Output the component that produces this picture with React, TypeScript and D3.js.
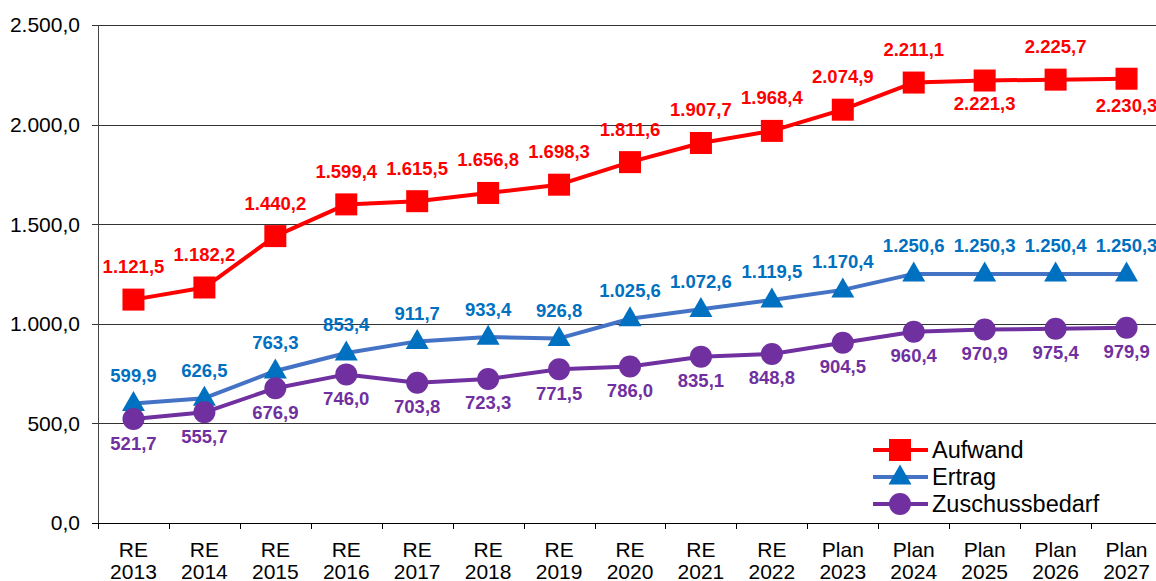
import React from "react";
import * as d3 from "d3";

const prefixes = ["RE", "RE", "RE", "RE", "RE", "RE", "RE", "RE", "RE", "RE", "Plan", "Plan", "Plan", "Plan", "Plan"];
const years = ["2013", "2014", "2015", "2016", "2017", "2018", "2019", "2020", "2021", "2022", "2023", "2024", "2025", "2026", "2027"];
const categories = years.map((y, i) => `${prefixes[i]} ${y}`);

const aufwand = [1121.5, 1182.2, 1440.2, 1599.4, 1615.5, 1656.8, 1698.3, 1811.6, 1907.7, 1968.4, 2074.9, 2211.1, 2221.3, 2225.7, 2230.3];
const ertrag = [599.9, 626.5, 763.3, 853.4, 911.7, 933.4, 926.8, 1025.6, 1072.6, 1119.5, 1170.4, 1250.6, 1250.3, 1250.4, 1250.3];
const zuschuss = [521.7, 555.7, 676.9, 746.0, 703.8, 723.3, 771.5, 786.0, 835.1, 848.8, 904.5, 960.4, 970.9, 975.4, 979.9];

const yTicks = [0, 500, 1000, 1500, 2000, 2500];

// label placement (offset of label centre from point, px)
const aufwandDy = [-33, -33, -33, -33, -33, -33, -33, -33, -33, -33, -33, -33, 23, -33, 27];
const ertragDy = -28;
const zuschussDy = 24;

const W = 1156;
const H = 581;
const margin = { left: 98, right: -6, top: 25, bottom: 58 };

const fmt = (v: number, digits = 1) => {
  const s = v.toFixed(digits);
  const [intPart, dec] = s.split(".");
  return intPart.replace(/\B(?=(\d{3})+(?!\d))/g, ".") + "," + dec;
};

const RED = "#FF0000";
const BLUE_LINE = "#4472C4";
const BLUE = "#0070C0";
const PURPLE = "#7030A0";
const FONT = "'Liberation Sans', Arial, sans-serif";

type Shape = "square" | "triangle" | "circle";

const Marker = ({ shape, x, y, color }: { shape: Shape; x: number; y: number; color: string }) => {
  if (shape === "square") return <rect x={x - 11} y={y - 11} width={22} height={22} fill={color} />;
  if (shape === "circle") return <circle cx={x} cy={y} r={11} fill={color} />;
  const s = 23;
  const h = s * 0.87;
  return (
    <path
      d={`M${x},${y - h * 0.62} L${x + s / 2},${y + h * 0.38} L${x - s / 2},${y + h * 0.38} Z`}
      fill={color}
    />
  );
};

const App = () => {
  const x = d3
    .scaleBand<string>()
    .domain(categories)
    .range([margin.left, W - margin.right])
    .padding(0);
  const cx = (c: string) => (x(c) ?? 0) + x.bandwidth() / 2;
  const y = d3.scaleLinear().domain([0, 2500]).range([H - margin.bottom, margin.top]);

  const line = d3
    .line<number>()
    .x((_, i) => cx(categories[i]))
    .y((d) => y(d));

  const series = [
    { name: "Aufwand", data: aufwand, line: RED, mark: RED, label: RED, shape: "square" as Shape },
    { name: "Ertrag", data: ertrag, line: BLUE_LINE, mark: BLUE, label: BLUE, shape: "triangle" as Shape },
    { name: "Zuschussbedarf", data: zuschuss, line: PURPLE, mark: PURPLE, label: PURPLE, shape: "circle" as Shape },
  ];

  const plotRight = W - margin.right;
  const bottom = H - margin.bottom;

  return (
    <svg
      width={W}
      height={H}
      style={{ position: "absolute", left: 0, top: 0, fontFamily: FONT }}
    >
      <rect width={W} height={H} fill="#fff" />
      {/* grid */}
      {yTicks.map((t) => (
        <g key={t}>
          <line
            x1={margin.left - 6}
            x2={plotRight}
            y1={Math.round(y(t)) + 0.5}
            y2={Math.round(y(t)) + 0.5}
            stroke={t === 0 ? "#000" : "#333"}
            strokeWidth={1}
          />
          <text
            x={80}
            y={y(t)}
            dy="0.35em"
            textAnchor="end"
            fontSize={21}
            fill="#000"
          >
            {fmt(t)}
          </text>
        </g>
      ))}
      {/* y axis */}
      <line
        x1={margin.left + 0.5}
        x2={margin.left + 0.5}
        y1={margin.top}
        y2={bottom + 6}
        stroke="#444"
      />
      {/* x ticks & labels */}
      {categories.map((c, i) => (
        <g key={c}>
          <line
            x1={Math.round(x(c) ?? 0) + 0.5}
            x2={Math.round(x(c) ?? 0) + 0.5}
            y1={bottom}
            y2={bottom + 6}
            stroke="#000"
          />
          <text x={cx(c)} y={557} textAnchor="middle" fontSize={21} fill="#000">
            {prefixes[i]}
          </text>
          <text x={cx(c)} y={579} textAnchor="middle" fontSize={21} fill="#000">
            {years[i]}
          </text>
        </g>
      ))}
      {/* lines */}
      {series.map((s) => (
        <path
          key={s.name}
          d={line(s.data) ?? ""}
          fill="none"
          stroke={s.line}
          strokeWidth={4}
          strokeLinejoin="round"
        />
      ))}
      {/* markers */}
      {series.map((s) =>
        s.data.map((v, i) => (
          <Marker key={s.name + i} shape={s.shape} x={cx(categories[i])} y={y(v)} color={s.mark} />
        ))
      )}
      {/* data labels */}
      {series.map((s, si) =>
        s.data.map((v, i) => {
          const dy = si === 0 ? aufwandDy[i] : si === 1 ? ertragDy : zuschussDy;
          return (
            <text
              key={"l" + s.name + i}
              x={cx(categories[i])}
              y={y(v) + dy}
              dy="0.35em"
              textAnchor="middle"
              fontSize={18.5}
              fontWeight="bold"
              fill={s.label}
            >
              {fmt(v)}
            </text>
          );
        })
      )}
      {/* legend */}
      {series.map((s, i) => {
        const ly = 450 + i * 27;
        return (
          <g key={"lg" + s.name}>
            <line x1={873} x2={928} y1={ly} y2={ly} stroke={s.line} strokeWidth={4} />
            <Marker shape={s.shape} x={900} y={ly} color={s.mark} />
            <text x={932} y={ly} dy="0.35em" fontSize={23.5} fill="#000">
              {s.name}
            </text>
          </g>
        );
      })}
    </svg>
  );
};

export default App;
